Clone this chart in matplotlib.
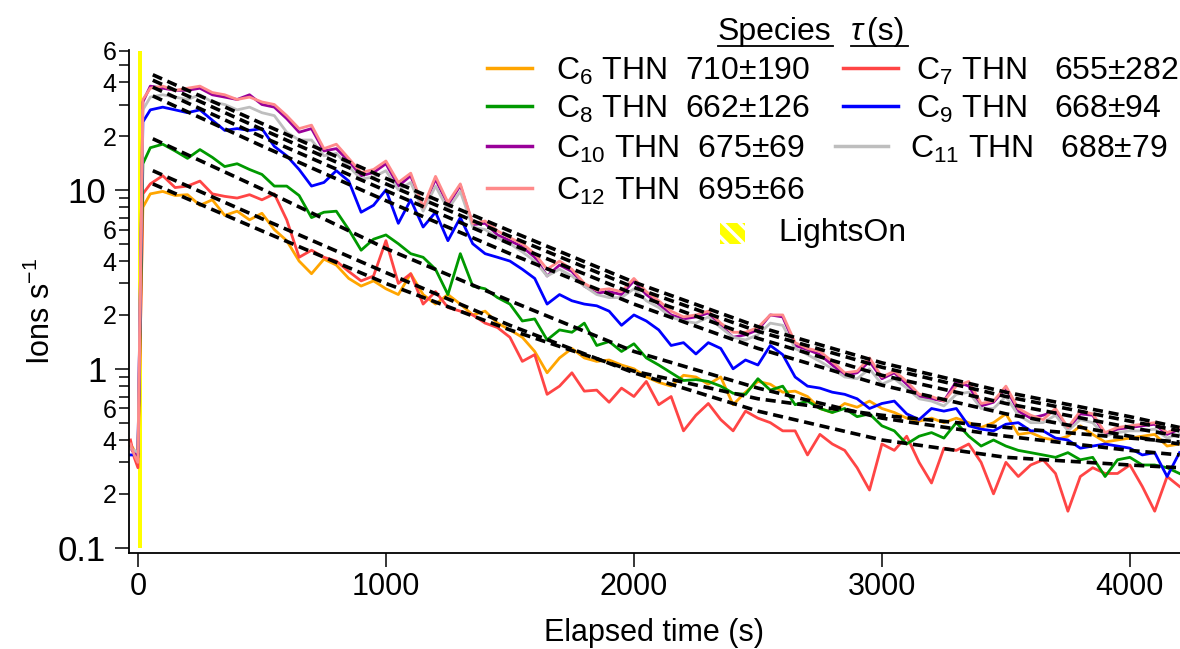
import numpy as np
import matplotlib
matplotlib.use('Agg')
import matplotlib.pyplot as plt
from matplotlib.lines import Line2D
from matplotlib.patches import Rectangle
from matplotlib.ticker import FixedLocator, FuncFormatter

plt.rcParams['font.family'] = ['Liberation Sans', 'DejaVu Sans']
plt.rcParams['mathtext.fontset'] = 'custom'
plt.rcParams['mathtext.rm'] = 'Liberation Sans'
plt.rcParams['mathtext.it'] = 'Liberation Sans:italic'
plt.rcParams['mathtext.default'] = 'regular'
plt.rcParams['hatch.linewidth'] = 2.5

# ---- data ----
# times before/at the light switch, then every 50 s afterwards
t_rise = [-30, -15, 0, 20]
t_data = np.arange(50, 4201, 50)

species = ['C6', 'C7', 'C8', 'C9', 'C10', 'C11', 'C12']
sub = ['6', '7', '8', '9', '10', '11', '12']
tau_text = ['710±190', '655±282', '662±126', '668±94', '675±69', '688±79', '695±66']
colors = ['#FFA500', '#FF4545', '#009900', '#0000FF', '#990099', '#BEBEBE', '#FF8A8A']

rise_c6 = [0.38, 0.35, 0.33, 8.0]
rise_c7 = [0.40, 0.32, 0.28, 9.5]
rise_c8 = [0.37, 0.34, 0.32, 14.0]
rise_c9 = [0.33, 0.33, 0.34, 24.0]
rise_c10 = [0.36, 0.34, 0.33, 31.0]
rise_c11 = [0.36, 0.35, 0.34, 28.0]
rise_c12 = [0.38, 0.33, 0.30, 32.0]

ions_c6 = [9.5, 9.8, 9.3, 9.4, 8.2, 8.8, 7.2, 7.6, 6.8, 7.4,
           6.0, 5.2, 4.0, 3.4, 4.1, 3.8, 3.2, 2.9, 3.1, 2.8,
           2.6, 3.4, 2.6, 2.3, 2.6, 2.3, 2.0, 2.1, 1.8, 1.65,
           1.5, 1.25, 0.95, 1.15, 1.3, 1.15, 1.1, 1.12, 1.05, 1.0,
           0.9, 0.84, 0.8, 0.92, 0.9, 0.82, 0.9, 0.63, 0.74, 0.85,
           0.82, 0.74, 0.75, 0.7, 0.6, 0.57, 0.64, 0.61, 0.66, 0.6,
           0.57, 0.53, 0.51, 0.53, 0.5, 0.53, 0.5, 0.47, 0.5, 0.56,
           0.43, 0.44, 0.41, 0.4, 0.42, 0.48, 0.43, 0.39, 0.4, 0.41,
           0.42, 0.43, 0.37, 0.38]
ions_c7 = [10.8, 12.0, 10.3, 10.5, 11.2, 9.5, 9.2, 9.0, 9.4, 8.8,
           9.5, 6.8, 4.2, 4.6, 4.2, 4.0, 3.5, 3.1, 3.3, 5.2,
           3.0, 3.4, 2.3, 2.7, 2.2, 2.1, 2.0, 1.8, 1.7, 1.5,
           1.1, 1.2, 0.72, 0.8, 0.95, 0.75, 0.76, 0.65, 0.78, 0.7,
           0.85, 0.63, 0.7, 0.45, 0.55, 0.64, 0.52, 0.45, 0.58, 0.53,
           0.5, 0.45, 0.45, 0.33, 0.43, 0.38, 0.35, 0.28, 0.21, 0.38,
           0.35, 0.42, 0.3, 0.23, 0.36, 0.35, 0.38, 0.3, 0.2, 0.3,
           0.25, 0.29, 0.31, 0.26, 0.16, 0.25, 0.28, 0.26, 0.26, 0.29,
           0.22, 0.16, 0.25, 0.22]
ions_c8 = [17.2, 18.0, 16.5, 15.0, 16.8, 15.2, 13.5, 14.0, 13.0, 12.2,
           10.5, 10.5, 9.3, 7.0, 7.5, 7.6, 6.0, 4.6, 5.3, 5.6,
           5.0, 4.4, 4.2, 3.6, 2.6, 4.4, 2.9, 2.8, 2.5, 2.3,
           1.85, 1.9, 1.45, 1.65, 1.6, 1.8, 1.35, 1.42, 1.25, 1.38,
           1.15, 1.05, 0.95, 0.86, 0.87, 0.85, 0.8, 0.73, 0.72, 0.88,
           0.76, 0.8, 0.63, 0.66, 0.6, 0.57, 0.6, 0.54, 0.56, 0.48,
           0.45, 0.38, 0.42, 0.44, 0.41, 0.5, 0.42, 0.37, 0.4, 0.37,
           0.35, 0.34, 0.33, 0.32, 0.34, 0.31, 0.32, 0.25, 0.31, 0.32,
           0.29, 0.29, 0.28, 0.26]
ions_c9 = [28, 29, 28, 27, 28, 24.5, 21.5, 22, 21.5, 22,
           17.5, 15.5, 13, 10.5, 11, 12.8, 11.2, 7.5, 8.2, 10,
           6.5, 8.8, 6.2, 7.5, 5.2, 7.0, 5.0, 4.4, 4.2, 4.0,
           3.6, 3.2, 2.3, 2.6, 2.4, 2.3, 2.25, 2.1, 1.75, 2.0,
           1.85, 1.65, 1.35, 1.4, 1.21, 1.4, 1.3, 1.0, 1.12, 1.05,
           1.35, 1.2, 0.9, 0.8, 0.78, 0.74, 0.72, 0.68, 0.6, 0.64,
           0.66, 0.56, 0.52, 0.6, 0.58, 0.6, 0.48, 0.46, 0.45, 0.49,
           0.5, 0.45, 0.45, 0.41, 0.4, 0.36, 0.37, 0.38, 0.37, 0.36,
           0.33, 0.34, 0.25, 0.34]
ions_c10 = [38, 37, 36, 36, 37, 34, 33, 32, 34, 30,
            29, 25, 21, 22, 16.5, 17, 14.5, 12, 12.5, 14,
            10.5, 12, 7.8, 11.5, 8.2, 10.6, 6.4, 6.5, 5.6, 5.2,
            4.8, 4.2, 3.3, 3.8, 3.5, 2.9, 2.65, 2.7, 2.6, 3.1,
            2.6, 2.3, 2.0, 1.9, 1.95, 2.05, 1.75, 1.5, 1.55, 1.65,
            2.0, 1.95, 1.35, 1.28, 1.2, 1.05, 0.92, 0.95, 1.1, 0.88,
            0.95, 0.82, 0.7, 0.68, 0.66, 0.85, 0.8, 0.62, 0.65, 0.78,
            0.58, 0.53, 0.55, 0.58, 0.46, 0.56, 0.55, 0.43, 0.46, 0.47,
            0.48, 0.49, 0.43, 0.46]
ions_c11 = [33, 34, 33, 32, 34, 31, 30, 28, 29, 27,
            26, 21, 19, 19, 15.5, 16, 13.5, 11.5, 11.8, 12.8,
            10, 11, 7.6, 10.5, 7.8, 9.8, 6.2, 6.0, 5.4, 5.0,
            4.5, 4.0, 3.3, 3.6, 3.3, 2.9, 2.6, 2.5, 2.5, 2.8,
            2.4, 2.2, 1.95, 1.85, 1.8, 1.95, 1.7, 1.5, 1.45, 1.55,
            1.8, 1.75, 1.3, 1.2, 1.1, 1.0, 0.9, 0.88, 1.0, 0.82,
            0.88, 0.78, 0.68, 0.66, 0.62, 0.72, 0.74, 0.6, 0.6, 0.7,
            0.55, 0.5, 0.5, 0.55, 0.45, 0.52, 0.5, 0.42, 0.44, 0.45,
            0.45, 0.46, 0.41, 0.43]
ions_c12 = [37, 38, 36, 37, 38, 35, 34, 32, 33, 31,
            30, 26, 22, 23, 17, 18, 15, 12.5, 13, 14.5,
            11, 12.4, 8, 11.9, 8.5, 10.8, 6.5, 6.7, 5.9, 5.4,
            5.0, 4.4, 3.6, 4.0, 3.6, 3.0, 2.75, 2.8, 2.7, 3.2,
            2.7, 2.4, 2.1, 1.95, 2.0, 2.1, 1.8, 1.6, 1.6, 1.7,
            2.0, 2.0, 1.4, 1.3, 1.25, 1.1, 0.95, 0.97, 1.15, 0.9,
            0.97, 0.85, 0.72, 0.7, 0.66, 0.8, 0.85, 0.64, 0.66, 0.8,
            0.6, 0.55, 0.52, 0.6, 0.47, 0.58, 0.56, 0.44, 0.47, 0.48,
            0.49, 0.5, 0.44, 0.47]

# exponential fits (dashed), read at these times
t_fit = [60, 500, 1000, 1500, 2000, 2500, 3000, 3500, 4000, 4200]
fit_c6 = [10.8, 5.9, 3.0, 1.65, 0.97, 0.68, 0.55, 0.47, 0.41, 0.39]
fit_c7 = [12.8, 6.9, 3.45, 1.75, 0.95, 0.58, 0.40, 0.32, 0.29, 0.28]
fit_c8 = [19.3, 10.1, 4.7, 2.4, 1.25, 0.78, 0.53, 0.42, 0.35, 0.33]
fit_c9 = [33.5, 17.6, 8.7, 4.4, 2.3, 1.30, 0.81, 0.56, 0.42, 0.38]
fit_c10 = [41, 21.8, 10.8, 5.5, 2.85, 1.62, 1.02, 0.70, 0.51, 0.45]
fit_c11 = [37.5, 19.8, 9.9, 5.0, 2.62, 1.48, 0.92, 0.64, 0.47, 0.42]
fit_c12 = [44, 23.5, 11.6, 5.9, 3.05, 1.72, 1.08, 0.74, 0.54, 0.47]

# lights-on marker
lights_t = [0, 18]
lights_y = [0.1, 60]

rises = [rise_c6, rise_c7, rise_c8, rise_c9, rise_c10, rise_c11, rise_c12]
ions = [ions_c6, ions_c7, ions_c8, ions_c9, ions_c10, ions_c11, ions_c12]
fits = [fit_c6, fit_c7, fit_c8, fit_c9, fit_c10, fit_c11, fit_c12]

W, H = 1180, 649
fig = plt.figure(figsize=(W / 100, H / 100), dpi=100)
ax = fig.add_axes([128.5 / W, 1 - 552.7 / H, (W - 128.5) / W, 502.7 / H])

def fxy(x, y):
    # pixel position -> figure fraction
    return x / W, 1 - y / H

# yellow light-on bar behind the traces
ax.fill_betweenx(lights_y, lights_t[0], lights_t[1], color='yellow', lw=0, zorder=1)

t_all = list(t_rise) + list(t_data)
for r, v, c in zip(rises, ions, colors):
    ax.plot(t_all, r + v, color=c, lw=2.0, zorder=2)

for f in fits:
    ax.plot(t_fit, f, color='black', lw=2.6, dashes=(2.8, 1.6), zorder=3)

ax.set_yscale('log')
ax.set_xlim(-38, 4202)
ax.set_ylim(0.0938, 60.5)

# axes styling (Igor look)
for s in ['top', 'right']:
    ax.spines[s].set_visible(False)
for s in ['left', 'bottom']:
    ax.spines[s].set_linewidth(1.3)

ax.set_xticks([0, 1000, 2000, 3000, 4000])
ax.tick_params(axis='x', length=10, width=1.1, pad=4, labelsize=22)

ax.yaxis.set_major_locator(FixedLocator([0.1, 1, 10]))
ax.yaxis.set_major_formatter(FuncFormatter(lambda v, p: '%g' % v))
minors = [m * 10.0 ** e for e in (-1, 0, 1) for m in range(2, 10) if m * 10.0 ** e <= 60]
ax.yaxis.set_minor_locator(FixedLocator(minors))

def minor_label(v, pos):
    m = int(round(v / 10 ** np.floor(np.log10(v) + 1e-9)))
    return str(m) if m in (2, 4, 6) else ''

ax.yaxis.set_minor_formatter(FuncFormatter(minor_label))
ax.tick_params(axis='y', which='major', length=10, width=1.1, pad=6, labelsize=25)
ax.tick_params(axis='y', which='minor', length=7, width=1.1, pad=1.5, labelsize=18)

ax.set_xlabel('Elapsed time (s)', fontsize=22)
ax.xaxis.set_label_coords(0.5, -0.13)
ax.set_ylabel('Ions s$^{-1}$', fontsize=22)
ax.yaxis.set_label_coords(-0.068, 0.48)

# ---- hand-made legend ----
fig.text(*fxy(718, 32), 'Species', fontsize=23, va='center', ha='left')
fig.text(*fxy(851, 32), 'τ', fontsize=23, va='center', ha='left', style='italic')
fig.text(*fxy(867, 32), '(s)', fontsize=23, va='center', ha='left')
fig.add_artist(Line2D([718 / W, 833 / W], [1 - 46 / H] * 2, color='black', lw=1.3))
fig.add_artist(Line2D([851 / W, 908 / W], [1 - 46 / H] * 2, color='black', lw=1.3))

row_y = [68, 68, 106, 106, 146, 146, 188]
handle_x = [(487, 532), (843, 898), (487, 532), (843, 898), (487, 532), (835, 888), (487, 532)]
text_x = [556, 916, 556, 916, 556, 910, 556]
gaps = ['  ', '   ', '  ', '   ', '  ', '   ', '  ']
for i in range(len(species)):
    x0, x1 = handle_x[i]
    fig.add_artist(Line2D([x0 / W, x1 / W], [1 - row_y[i] / H] * 2, color=colors[i], lw=2.5))
    label = 'C$_{%s}$ THN%s%s' % (sub[i], gaps[i], tau_text[i])
    fig.text(*fxy(text_x[i], row_y[i] + 11.5), label, fontsize=23, va='baseline', ha='left')

fig.add_artist(Rectangle(fxy(720, 244), 25 / W, 21 / H, transform=fig.transFigure,
                         facecolor='yellow', edgecolor='white', hatch='\\\\', lw=0))
fig.text(*fxy(778, 233), 'LightsOn', fontsize=23, va='center', ha='left')

fig.savefig('out.png', dpi=100)
